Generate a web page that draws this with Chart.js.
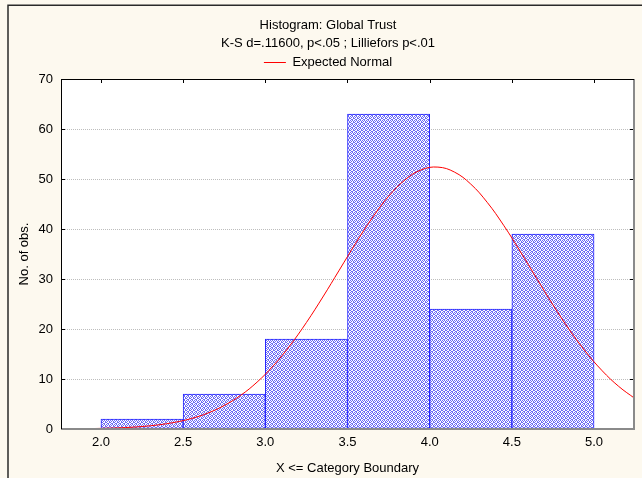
<!DOCTYPE html>
<html>
<head>
<meta charset="utf-8">
<script src="https://cdn.jsdelivr.net/npm/chart.js@4/dist/chart.umd.min.js"></script>
<style>
html,body{margin:0;padding:0;background:#fdf9ef;}
#wrap{width:642px;height:478px;position:relative;}
</style>
</head>
<body>
<div id="wrap"><canvas id="c" width="642" height="478"></canvas></div>
<script>
// ---- data ----
const titleLines = ['Histogram: Global Trust', 'K-S d=.11600, p<.05 ; Lilliefors p<.01'];
const binLower = [2.0, 2.5, 3.0, 3.5, 4.0, 4.5];
const binUpper = [2.5, 3.0, 3.5, 4.0, 4.5, 5.0];
const counts   = [2, 7, 18, 63, 24, 39];
const curveX = [1.75,1.85,1.95,2.05,2.15,2.25,2.35,2.45,2.55,2.65,2.75,2.85,2.95,3.05,3.15,3.25,3.35,3.45,3.55,3.65,3.75,3.85,3.95,4.05,4.15,4.25,4.35,4.45,4.55,4.65,4.75,4.85,4.95,5.05,5.15,5.25];
const curveY = [0.03,0.05,0.09,0.17,0.29,0.50,0.83,1.34,2.09,3.18,4.70,6.73,9.38,12.70,16.69,21.30,26.40,31.78,37.16,42.20,46.54,49.84,51.85,52.38,51.40,48.98,45.33,40.74,35.57,30.16,24.83,19.85,15.42,11.63,8.52,6.06];
const xTicks = [2.0, 2.5, 3.0, 3.5, 4.0, 4.5, 5.0];
const yTicks = [0, 10, 20, 30, 40, 50, 60, 70];
const legendLabel = 'Expected Normal';
const xTitle = 'X <= Category Boundary';
const yTitle = 'No. of obs.';

// hatch pattern for bars
function makePattern(){
  const p = document.createElement('canvas');
  p.width = 4; p.height = 4;
  const g = p.getContext('2d');
  g.fillStyle = '#ffffff'; g.fillRect(0,0,4,4);
  g.fillStyle = '#6c6cf6';
  const on = [[0,0],[2,0],[1,1],[3,1],[1,2],[2,2],[0,3],[3,3]];
  on.forEach(([x,y])=>g.fillRect(x,y,1,1));
  return document.getElementById('c').getContext('2d').createPattern(p,'repeat');
}

const FONT = '"Liberation Sans", Arial, sans-serif';

const bgPlugin = {
  id: 'bg',
  beforeDraw(chart){
    const ctx = chart.ctx;
    ctx.save();
    ctx.fillStyle = '#fdf9ef';
    ctx.fillRect(0,0,chart.width,chart.height);
    ctx.strokeStyle = '#2a2a2a';
    ctx.lineWidth = 1.5;
    ctx.beginPath();
    ctx.moveTo(8, chart.height);
    ctx.lineTo(8, 5.25);
    ctx.lineTo(chart.width, 5.25);
    ctx.stroke();
    const a = chart.chartArea;
    ctx.fillStyle = '#ffffff';
    ctx.fillRect(a.left, a.top, a.right - a.left, a.bottom - a.top);
    ctx.restore();
  },
  afterDatasetsDraw(chart){
    const ctx = chart.ctx;
    const a = chart.chartArea;
    const xs = chart.scales.x, ys = chart.scales.y;
    ctx.save();
    // ticks
    ctx.strokeStyle = '#000';
    ctx.lineWidth = 1;
    ctx.beginPath();
    xTicks.forEach(v=>{
      const px = Math.round(xs.getPixelForValue(v)) + 0.5;
      ctx.moveTo(px, a.top); ctx.lineTo(px, a.top + 4);
    });
    yTicks.forEach(v=>{
      const py = Math.round(ys.getPixelForValue(v)) + 0.5;
      ctx.moveTo(a.left, py); ctx.lineTo(a.left + 4, py);
      ctx.moveTo(a.right - 4, py); ctx.lineTo(a.right, py);
    });
    ctx.stroke();
    // frame: bottom/right grey, top/left black
    ctx.strokeStyle = '#8a8a8a';
    ctx.lineWidth = 2;
    ctx.beginPath();
    ctx.moveTo(a.left, a.bottom); ctx.lineTo(a.right, a.bottom); ctx.lineTo(a.right, a.top);
    ctx.stroke();
    ctx.strokeStyle = '#000';
    ctx.lineWidth = 1;
    ctx.beginPath();
    ctx.moveTo(a.left + 0.5, a.bottom); ctx.lineTo(a.left + 0.5, a.top + 0.5); ctx.lineTo(a.right, a.top + 0.5);
    ctx.stroke();
    ctx.restore();
  }
};

const barData = binLower.map((lo,i)=>({x:(lo + binUpper[i])/2, y:counts[i]}));
const lineData = curveX.map((x,i)=>({x:x, y:curveY[i]}));

new Chart(document.getElementById('c'), {
  type: 'bar',
  data: {
    datasets: [
      {
        type: 'line',
        label: legendLabel,
        data: lineData,
        borderColor: '#ff0000',
        backgroundColor: '#ff0000',
        borderWidth: 1,
        pointRadius: 0,
        tension: 0.4,
        fill: false,
        order: 1
      },
      {
        type: 'bar',
        label: 'Histogram',
        data: barData,
        backgroundColor: makePattern(),
        borderColor: '#2424ff',
        borderWidth: 1,
        borderSkipped: false,
        barPercentage: 1.0,
        categoryPercentage: 1.0,
        order: 2
      }
    ]
  },
  options: {
    responsive: false,
    animation: false,
    devicePixelRatio: 1,
    layout: { padding: { left: 22, right: 8, top: 0, bottom: 0 } },
    plugins: {
      tooltip: { enabled: false },
      title: {
        display: true,
        text: titleLines,
        color: '#000',
        font: { family: FONT, size: 13, weight: 'normal', lineHeight: '18.5px' },
        padding: { top: 16, bottom: 0 }
      },
      legend: {
        display: true,
        labels: {
          filter: (item)=> item.text === legendLabel,
          color: '#000',
          font: { family: FONT, size: 13 },
          usePointStyle: true,
          pointStyle: 'line',
          pointStyleWidth: 22,
          boxWidth: 22,
          padding: 3
        }
      }
    },
    scales: {
      x: {
        type: 'linear',
        min: 1.757,
        max: 5.243,
        offset: false,
        afterFit: (s)=>{ s.height = 49; },
        afterBuildTicks: (s)=>{ s.ticks = xTicks.map(v=>({value:v})); },
        ticks: {
          color: '#000',
          font: { family: FONT, size: 13 },
          padding: 6,
          maxRotation: 0,
          autoSkip: false,
          callback: (v)=> Number(v).toFixed(1)
        },
        grid: { display: false, drawTicks: false },
        border: { display: false },
        title: {
          display: true,
          text: xTitle,
          color: '#000',
          font: { family: FONT, size: 13 },
          padding: { top: 0, bottom: 2 }
        }
      },
      y: {
        min: 0,
        max: 70,
        afterFit: (s)=>{ s.width = 39; },
        afterBuildTicks: (s)=>{ s.ticks = yTicks.map(v=>({value:v})); },
        ticks: {
          color: '#000',
          font: { family: FONT, size: 13 },
          padding: 8
        },
        grid: {
          drawTicks: false,
          color: (c)=> (c.tick && (c.tick.value === 0 || c.tick.value === 70)) ? 'rgba(0,0,0,0)' : '#bdbdbd',
          lineWidth: 1
        },
        border: { display: false, dash: [1, 1] },
        title: {
          display: true,
          text: yTitle,
          color: '#000',
          font: { family: FONT, size: 13 },
          padding: { top: -5, bottom: 0 }
        }
      }
    }
  },
  plugins: [bgPlugin]
});
</script>
</body>
</html>
